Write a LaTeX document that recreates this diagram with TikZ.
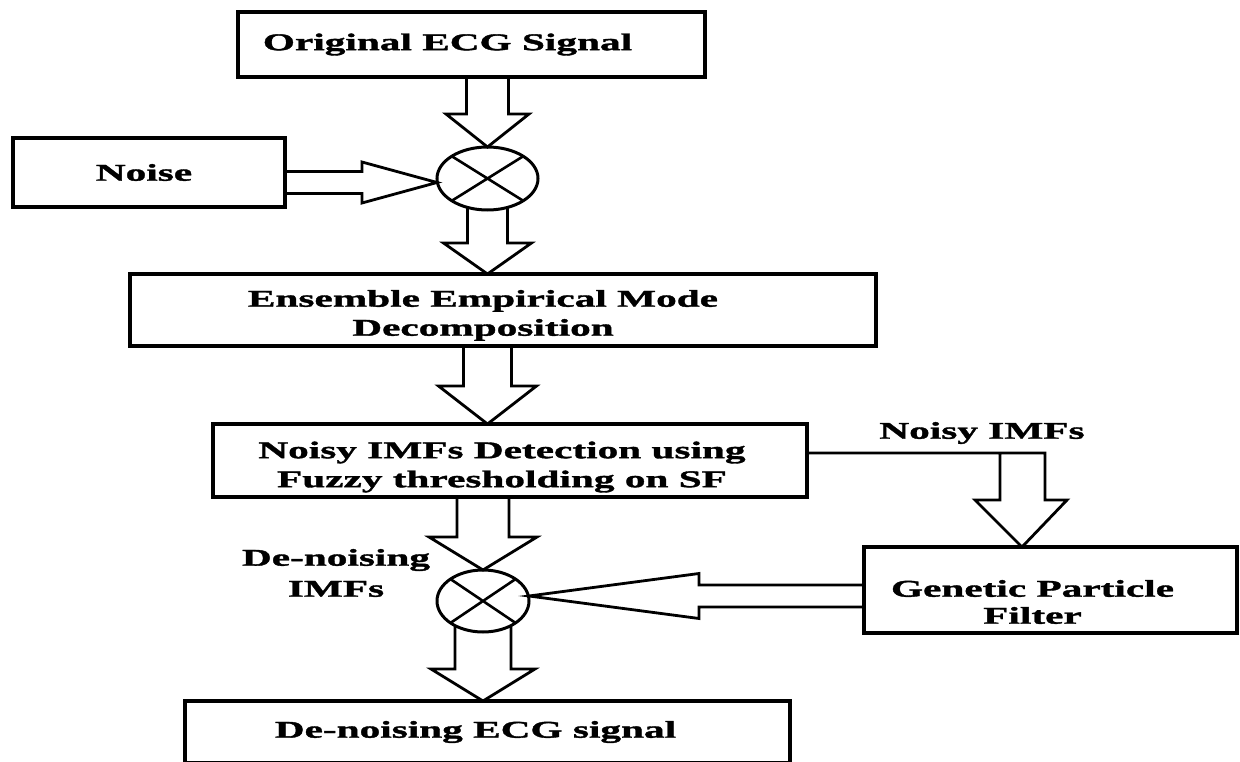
\documentclass[tikz,border=0pt]{standalone}
\usepackage{fontspec}
\setmainfont{Liberation Serif}[FakeStretch=1.72, BoldFeatures={FakeBold=1.5}]
\usetikzlibrary{calc,shapes.geometric}
\newcommand\mltext[2]{\raisebox{#1}[\height][\depth]{\begin{tabular}{@{}c@{}}#2\end{tabular}}}
\begin{document}
\begin{tikzpicture}[x=1pt,y=-1pt,
  box/.style={draw,line width=3.5pt,rectangle,inner sep=0pt,outer sep=0pt,
    font=\bfseries\fontsize{24}{31}\selectfont,align=center},
  mix/.style={draw,line width=3pt,ellipse,inner sep=0pt,outer sep=0pt},
  cross/.style={line width=2.6pt},
  blk/.style={draw,line width=2.8pt,line join=miter},
  lbl/.style={font=\bfseries\fontsize{24}{31}\selectfont,align=center,inner sep=0pt}]
\useasboundingbox (0,0) rectangle (1240,762);
\clip (0,0) rectangle (1240,762);

% boxes
\node[box,minimum width=467pt,minimum height=65pt] (orig) at (471.5,44.5) {Original ECG Signal\kern48pt};
\node[box,minimum width=272pt,minimum height=69pt] (noise) at (149,172.5) {Noise\kern10pt};
\node[mix,minimum width=101pt,minimum height=63pt] (m1) at (487.5,178.5) {};
\node[box,minimum width=746pt,minimum height=72pt] (eemd) at (503,310) {\mltext{-5pt}{Ensemble Empirical Mode\\[-2pt]Decomposition}\kern40pt};
\node[box,minimum width=594pt,minimum height=73pt] (noisy) at (510,460.5) {\mltext{-6pt}{Noisy IMFs Detection using\\[-2pt]Fuzzy thresholding on SF}\kern16pt};
\node[box,minimum width=373pt,minimum height=86pt] (gpf) at (1050.5,590) {\mltext{-14pt}{Genetic Particle\\[-4pt]Filter}\kern36pt};
\node[mix,minimum width=92pt,minimum height=62pt] (m2) at (483,601) {};
\node[box,minimum width=605pt,minimum height=62pt] (final) at (487.5,732) {De-noising ECG signal\kern24pt};

% labels
\node[lbl] (nimf) at (982,433) {Noisy IMFs};
\node[lbl] (dimf) at (336,573) {De-noising\\IMFs};

% crosses in the mixers
\draw[cross] (m1.north west) -- (m1.south east) (m1.north east) -- (m1.south west);
\draw[cross] (m2.north west) -- (m2.south east) (m2.north east) -- (m2.south west);

% block arrows pointing down: #1 start, #2 tip, #3 shaft half, #4 head half, #5 head length
\newcommand\blkdown[5]{%
  \draw[blk] let \p1=(#1), \p2=(#2) in
    (\x2-#3,\y1) -- (\x2-#3,\y2+#5) -- (\x2-#4,\y2+#5) -- (\x2,\y2)
    -- (\x2+#4,\y2+#5) -- (\x2+#3,\y2+#5) -- (\x2+#3,\y1);}

\blkdown{orig.south}{m1.north}{21pt}{41.5pt}{33pt}
\blkdown{$(m1.south)+(0,-2.6)$}{eemd.north -| m1.south}{20pt}{44pt}{31pt}
\blkdown{eemd.south}{noisy.north -| m1.south}{24pt}{49pt}{38pt}
\blkdown{noisy.south}{m2.north}{26pt}{54pt}{33pt}
\blkdown{$(m2.south)+(0,-6.4)$}{final.north -| m2.south}{28pt}{52pt}{32pt}

% noise -> mixer 1
\draw[blk] let \p1=(noise.east), \p2=($(m1.west)+(0,4)$) in
  (\x1,\y2+11pt) -- (\x2-75pt,\y2+11pt) -- (\x2-75pt,\y2+20.5pt) -- (\x2,\y2)
  -- (\x2-75pt,\y2-20.5pt) -- (\x2-75pt,\y2-11pt) -- (\x1,\y2-11pt);

% genetic particle filter -> mixer 2
\draw[blk] let \p1=(gpf.west), \p2=($(m2.east)+(0,-5)$) in
  (\x1,\y2+11pt) -- (\x2+170pt,\y2+11pt) -- (\x2+170pt,\y2+22.5pt) -- (\x2,\y2)
  -- (\x2+170pt,\y2-22.5pt) -- (\x2+170pt,\y2-11pt) -- (\x1,\y2-11pt);

% noisy IMFs -> genetic particle filter
\draw[blk] let \p1=($(noisy.east)+(0,-7.5)$), \p2=($(gpf.north)+(-28.5,0)$) in
  (\x1,\y1) -- (\x2+23pt,\y1) -- (\x2+23pt,\y2+47pt) -- (\x2+45pt,\y2+47pt) -- (\x2,\y2)
  -- (\x2-47pt,\y2+47pt) -- (\x2-22pt,\y2+47pt) -- (\x2-22pt,\y1);
\end{tikzpicture}
\end{document}
